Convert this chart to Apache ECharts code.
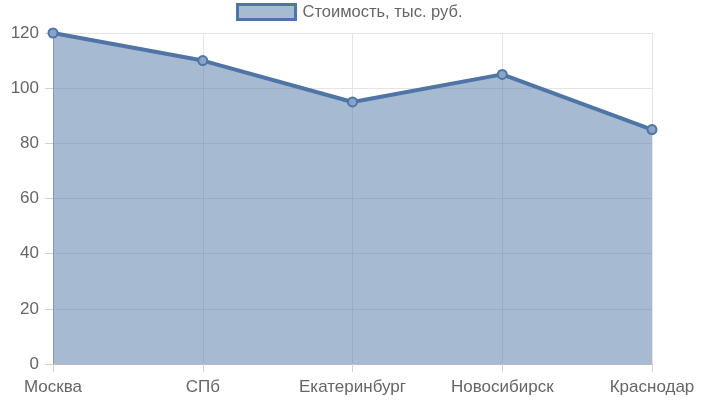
<!DOCTYPE html>
<html><head><meta charset="utf-8">
<script src="https://cdn.jsdelivr.net/npm/echarts@6/dist/echarts.min.js"></script>
<style>html,body{margin:0;padding:0;background:#fff}#c{width:707px;height:400px}</style>
</head><body><div id="c"></div>
<script>
const categories = ['Москва', 'СПб', 'Екатеринбург', 'Новосибирск', 'Краснодар'];
const values = [120, 110, 95, 105, 85];
const seriesName = 'Стоимость, тыс. руб.';
const yTicks = { min: 0, max: 120, interval: 20 };

const lineColor = '#4e75a5';
const font = '"Liberation Sans", Arial, sans-serif';
const chart = echarts.init(document.getElementById('c'));
chart.setOption({
  animation: false,
  backgroundColor: '#fff',
  legend: {
    top: 3, left: 236, padding: 0,
    icon: 'rect', itemWidth: 58, itemHeight: 15, itemGap: 8,
    itemStyle: { color: '#a6bad2', borderColor: lineColor, borderWidth: 3 },
    textStyle: { fontFamily: font, fontSize: 16.5, color: '#666', padding: [0, 0, 0, 2] },
    data: [seriesName]
  },
  grid: { left: 53, right: 55, top: 33, bottom: 36, containLabel: false },
  xAxis: {
    type: 'category', data: categories, boundaryGap: false,
    axisLine: { show: true, lineStyle: { color: '#bbb', width: 1 } },
    axisTick: { show: true, length: 8, alignWithLabel: true, lineStyle: { color: '#d0d0d0' } },
    axisLabel: { color: '#666', fontFamily: font, fontSize: 17, margin: 15, interval: 0 },
    splitLine: { show: true, lineStyle: { color: '#e4e4e4', width: 1 } }
  },
  yAxis: {
    type: 'value', min: yTicks.min, max: yTicks.max, interval: yTicks.interval,
    axisLine: { show: true, lineStyle: { color: '#bbb', width: 1 } },
    axisTick: { show: true, length: 8, lineStyle: { color: '#d0d0d0' } },
    axisLabel: { color: '#666', fontFamily: font, fontSize: 17, margin: 14 },
    splitLine: { show: true, lineStyle: { color: '#e4e4e4', width: 1 } }
  },
  series: [{
    name: seriesName, type: 'line', data: values,
    lineStyle: { color: lineColor, width: 4 },
    areaStyle: { color: 'rgba(78,117,165,0.5)', opacity: 1, origin: 'start' },
    symbol: 'circle', symbolSize: 9,
    itemStyle: { color: '#8aa3c6', borderColor: lineColor, borderWidth: 2 },
    z: 1
  }]
});
</script></body></html>
